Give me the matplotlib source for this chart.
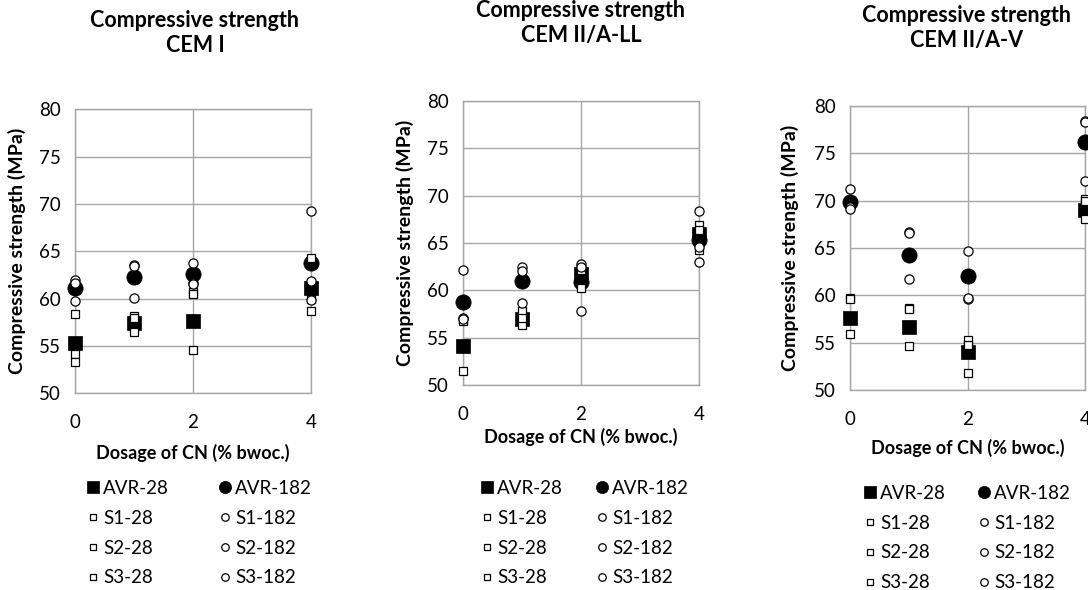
import matplotlib
matplotlib.use("Agg")
import matplotlib.pyplot as plt
from matplotlib.lines import Line2D

plt.rcParams['font.family'] = ['Lato', 'DejaVu Sans']

# ---------------- data ----------------
dosage = [0, 1, 2, 4]
series_names_28 = ["AVR-28", "S1-28", "S2-28", "S3-28"]
series_names_182 = ["AVR-182", "S1-182", "S2-182", "S3-182"]

titles = ["Compressive strength\nCEM I",
          "Compressive strength\nCEM II/A-LL",
          "Compressive strength\nCEM II/A-V"]

# CEM I
cem1_avr28 = [55.3, 57.4, 57.6, 61.1]
cem1_s1_28 = [58.4, 58.2, 60.7, 64.3]
cem1_s2_28 = [54.2, 56.5, 54.6, 60.0]
cem1_s3_28 = [53.3, 58.0, 60.5, 58.7]
cem1_avr182 = [61.1, 62.3, 62.6, 63.8]
cem1_s1_182 = [62.0, 63.6, 63.8, 69.3]
cem1_s2_182 = [61.7, 63.4, 61.6, 61.9]
cem1_s3_182 = [59.8, 60.1, 61.5, 59.9]

# CEM II/A-LL
cem2ll_avr28 = [54.1, 57.0, 61.7, 65.9]
cem2ll_s1_28 = [56.9, 57.8, 62.4, 66.9]
cem2ll_s2_28 = [56.8, 56.3, 62.2, 64.3]
cem2ll_s3_28 = [51.5, 57.1, 60.2, 66.4]
cem2ll_avr182 = [58.8, 61.0, 60.9, 65.3]
cem2ll_s1_182 = [62.2, 62.5, 62.8, 68.4]
cem2ll_s2_182 = [57.1, 62.0, 62.5, 63.0]
cem2ll_s3_182 = [57.0, 58.7, 57.8, 64.6]

# CEM II/A-V
cem2v_avr28 = [57.6, 56.7, 54.0, 69.0]
cem2v_s1_28 = [59.7, 58.7, 55.3, 70.2]
cem2v_s2_28 = [55.9, 54.6, 54.8, 68.1]
cem2v_s3_28 = [59.6, 58.6, 51.8, 70.0]
cem2v_avr182 = [69.9, 64.3, 62.0, 76.2]
cem2v_s1_182 = [71.2, 66.7, 64.7, 78.4]
cem2v_s2_182 = [69.3, 61.7, 59.6, 72.1]
cem2v_s3_182 = [69.1, 66.6, 59.7, 78.3]

panels = [
    (cem1_avr28, [cem1_s1_28, cem1_s2_28, cem1_s3_28],
     cem1_avr182, [cem1_s1_182, cem1_s2_182, cem1_s3_182]),
    (cem2ll_avr28, [cem2ll_s1_28, cem2ll_s2_28, cem2ll_s3_28],
     cem2ll_avr182, [cem2ll_s1_182, cem2ll_s2_182, cem2ll_s3_182]),
    (cem2v_avr28, [cem2v_s1_28, cem2v_s2_28, cem2v_s3_28],
     cem2v_avr182, [cem2v_s1_182, cem2v_s2_182, cem2v_s3_182]),
]

xticks = [0, 2, 4]
yticks = [50, 55, 60, 65, 70, 75, 80]
xlabel = "Dosage of CN (% bwoc.)"
ylabel = "Compressive strength (MPa)"

# ---------------- layout (pixels) ----------------
W, H = 1088, 590
fig = plt.figure(figsize=(W / 100, H / 100), dpi=100)

rects = [(75, 109.3, 311, 393.3), (462.7, 101, 699.3, 385), (850, 106, 1085.3, 390)]
title_pos = [(195, 33), (581, 23), (967, 28)]
ylabel_x = [17, 405, 790]
xlabel_y = [453, 437, 448]
leg_col1_x = [86, 480, 863]
leg_col2_x = [218, 595, 977]
leg_top = [480, 480, 485]

GRID = '#a6a6a6'
TICK_FS = 13.5
LEG_FS = 13.5


def fx(x):
    return x / W


def fy(y):
    return 1 - y / H


for i, (l, t, r, b) in enumerate(rects):
    ax = fig.add_axes([fx(l), fy(b), (r - l) / W, (b - t) / H])
    avr28, s28, avr182, s182 = panels[i]
    ax.plot(dosage, avr28, ls='none', marker='s', ms=9.5, mfc='black',
            mec='black', mew=0.5, clip_on=False, zorder=3)
    ax.plot(dosage, avr182, ls='none', marker='o', ms=11, mfc='black',
            mec='black', mew=0.5, clip_on=False, zorder=3)
    for k in range(3):
        ax.plot(dosage, s28[k], ls='none', marker='s', ms=5.2, mfc='white',
                mec='black', mew=0.9, clip_on=False, zorder=4)
        ax.plot(dosage, s182[k], ls='none', marker='o', ms=6.6, mfc='white',
                mec='black', mew=0.9, clip_on=False, zorder=4)

    ax.set_xlim(0, 4)
    ax.set_ylim(50, 80)
    ax.set_xticks(xticks)
    ax.set_yticks(yticks)
    ax.grid(True, color=GRID, lw=1.0)
    ax.set_axisbelow(True)
    for s in ax.spines.values():
        s.set_color(GRID)
        s.set_linewidth(1.0)
    ax.tick_params(length=0, labelsize=TICK_FS)
    ax.tick_params(axis='y', pad=10)
    ax.tick_params(axis='x', pad=15)

    tx, ty = title_pos[i]
    fig.text(fx(tx), fy(ty), titles[i], ha='center', va='center', fontsize=15.5,
             fontweight='bold', linespacing=1.25)
    fig.text(fx(ylabel_x[i]), fy((t + b) / 2), ylabel, rotation=90, ha='center',
             va='center', fontsize=14, fontweight='bold')
    fig.text(fx((l + r) / 2), fy(xlabel_y[i]), xlabel, ha='center', va='center',
             fontsize=13, fontweight='bold')

    # legend proxies (legend symbols are a little smaller than plotted ones)
    h_avr28 = Line2D([], [], ls='none', marker='s', ms=8.5, mfc='black', mec='black', mew=0.5)
    h_avr182 = Line2D([], [], ls='none', marker='o', ms=8.8, mfc='black', mec='black', mew=0.5)
    h_s28 = Line2D([], [], ls='none', marker='s', ms=5.0, mfc='white', mec='black', mew=0.9)
    h_s182 = Line2D([], [], ls='none', marker='o', ms=5.4, mfc='white', mec='black', mew=0.9)

    common = dict(loc='upper left', frameon=False, fontsize=LEG_FS, borderpad=0,
                  borderaxespad=0, handlelength=0.7, handletextpad=0.2,
                  labelspacing=0.68, numpoints=1)
    fig.legend(handles=[h_avr28, h_s28, h_s28, h_s28], labels=series_names_28,
               bbox_to_anchor=(fx(leg_col1_x[i]), fy(leg_top[i])), **common)
    fig.legend(handles=[h_avr182, h_s182, h_s182, h_s182], labels=series_names_182,
               bbox_to_anchor=(fx(leg_col2_x[i]), fy(leg_top[i])), **common)

fig.savefig("out.png", dpi=100)
